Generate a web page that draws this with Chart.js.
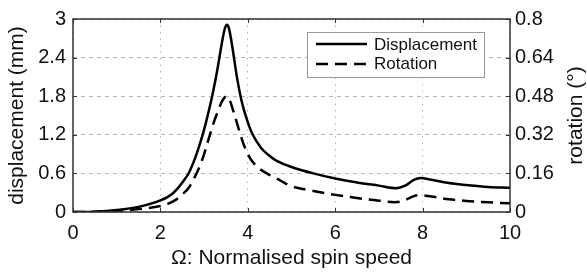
<!DOCTYPE html>
<html>
<head>
<meta charset="utf-8">
<script src="https://cdn.jsdelivr.net/npm/chart.js@4.4.1/dist/chart.umd.min.js"></script>
<style>
  html, body { margin: 0; padding: 0; background: #fff; }
  canvas { display: block; }
</style>
</head>
<body>
<canvas id="spinChart" width="587" height="275"></canvas>
<script>
// normalised spin speed
const omega = [0, 0.5, 1, 1.5, 2, 2.3, 2.6, 2.7, 2.8, 2.9, 3.0, 3.1, 3.2, 3.3, 3.4, 3.47, 3.52, 3.57, 3.65, 3.75, 3.85, 3.95, 4.1, 4.3, 4.45, 4.65, 5.0, 5.5, 6.0, 6.5, 7.0, 7.4, 7.6, 7.8, 7.95, 8.2, 8.6, 9.0, 9.5, 10];
// displacement (mm)
const displacement = [0, 0.005, 0.03, 0.08, 0.18, 0.3, 0.55, 0.68, 0.85, 1.05, 1.28, 1.55, 1.85, 2.2, 2.6, 2.84, 2.91, 2.85, 2.55, 2.1, 1.75, 1.5, 1.22, 1.0, 0.9, 0.8, 0.7, 0.6, 0.52, 0.46, 0.41, 0.37, 0.41, 0.5, 0.53, 0.5, 0.45, 0.42, 0.39, 0.375];
// rotation (deg)
const rotation = [0, 0.001, 0.005, 0.012, 0.025, 0.045, 0.09, 0.115, 0.15, 0.19, 0.24, 0.3, 0.36, 0.41, 0.455, 0.475, 0.48, 0.47, 0.43, 0.37, 0.31, 0.26, 0.21, 0.175, 0.158, 0.14, 0.107, 0.087, 0.071, 0.058, 0.047, 0.041, 0.05, 0.066, 0.07, 0.064, 0.053, 0.046, 0.04, 0.036];

const omegaTicks = [0, 2, 4, 6, 8, 10];
const dispTicks = [0, 0.6, 1.2, 1.8, 2.4, 3];
const rotTicks = [0, 0.16, 0.32, 0.48, 0.64, 0.8];

const FONT = "'Liberation Sans', Arial, Helvetica, sans-serif";

function pts(ys) {
  return omega.map((x, i) => ({ x: x, y: ys[i] }));
}

function fixTicks(list) {
  return function (scale) {
    scale.ticks = list.map(v => ({ value: v }));
  };
}

const frame = {
  id: 'frame',
  afterDraw(chart) {
    const ctx = chart.ctx;
    const a = chart.chartArea;
    const xs = chart.scales.x, ys = chart.scales.y;
    ctx.save();
    // inner tick marks
    ctx.strokeStyle = '#333';
    ctx.lineWidth = 1;
    omegaTicks.forEach(v => {
      const px = Math.round(xs.getPixelForValue(v)) + 0.5;
      ctx.beginPath();
      ctx.moveTo(px, a.bottom); ctx.lineTo(px, a.bottom - 4);
      ctx.moveTo(px, a.top); ctx.lineTo(px, a.top + 4);
      ctx.stroke();
    });
    dispTicks.forEach(v => {
      const py = Math.round(ys.getPixelForValue(v)) + 0.5;
      ctx.beginPath();
      ctx.moveTo(a.left, py); ctx.lineTo(a.left + 4, py);
      ctx.moveTo(a.right, py); ctx.lineTo(a.right - 4, py);
      ctx.stroke();
    });
    // box
    ctx.lineWidth = 1.5;
    ctx.strokeStyle = '#333';
    ctx.strokeRect(a.left, a.top, a.right - a.left, a.bottom - a.top);

    // right axis title, reading upwards
    ctx.fillStyle = '#111';
    ctx.font = '21px ' + FONT;
    ctx.textAlign = 'center';
    ctx.textBaseline = 'middle';
    ctx.translate(576, (a.top + a.bottom) / 2);
    ctx.rotate(-Math.PI / 2);
    ctx.fillText('rotation (\u00b0)', 0, 0);
    ctx.restore();

    // legend
    ctx.save();
    const lx = 307, ly = 32, lw = 177, lh = 45;
    ctx.fillStyle = '#fff';
    ctx.fillRect(lx, ly, lw, lh);
    ctx.strokeStyle = '#999';
    ctx.lineWidth = 1;
    ctx.strokeRect(lx + 0.5, ly + 0.5, lw, lh);
    ctx.strokeStyle = '#000';
    ctx.lineWidth = 2.5;
    ctx.beginPath();
    ctx.moveTo(316, 44); ctx.lineTo(367, 44);
    ctx.stroke();
    ctx.setLineDash([12, 7]);
    ctx.beginPath();
    ctx.moveTo(316, 64); ctx.lineTo(367, 64);
    ctx.stroke();
    ctx.setLineDash([]);
    ctx.fillStyle = '#111';
    ctx.font = '17px ' + FONT;
    ctx.textAlign = 'left';
    ctx.textBaseline = 'middle';
    ctx.fillText(chart.data.datasets[0].label, 374, 45);
    ctx.fillText(chart.data.datasets[1].label, 374, 64);
    ctx.restore();
  }
};

new Chart(document.getElementById('spinChart'), {
  type: 'line',
  data: {
    datasets: [
      {
        label: 'Displacement',
        data: pts(displacement),
        yAxisID: 'y',
        borderColor: '#000',
        borderWidth: 2.5,
        pointRadius: 0,
        tension: 0.35,
        fill: false
      },
      {
        label: 'Rotation',
        data: pts(rotation),
        yAxisID: 'y1',
        borderColor: '#000',
        borderWidth: 2.5,
        borderDash: [12, 7],
        pointRadius: 0,
        tension: 0.35,
        fill: false
      }
    ]
  },
  options: {
    responsive: false,
    animation: false,
    layout: { padding: { top: 10, left: 0, right: 0, bottom: 0 } },
    plugins: {
      legend: { display: false },
      tooltip: { enabled: false }
    },
    scales: {
      x: {
        type: 'linear',
        min: 0, max: 10,
        afterBuildTicks: fixTicks(omegaTicks),
        afterFit(s) { s.height = 63; },
        grid: { color: '#b5b5b5', lineWidth: 1, drawTicks: false },
        border: { display: false, dash: [1.5, 5] },
        ticks: { color: '#111', font: { family: FONT, size: 20 }, padding: 9, maxRotation: 0 },
        title: { display: true, text: '\u03a9: Normalised spin speed', color: '#111', font: { family: FONT, size: 21 }, padding: { top: 0, bottom: 4 } }
      },
      y: {
        position: 'left',
        min: 0, max: 3,
        afterBuildTicks: fixTicks(dispTicks),
        afterFit(s) { s.width = 73; },
        grid: { color: '#b5b5b5', lineWidth: 1, drawTicks: false },
        border: { display: false, dash: [4, 4] },
        ticks: { color: '#111', font: { family: FONT, size: 20 }, padding: 7, callback: v => String(v) },
        title: { display: true, text: 'displacement (mm)', color: '#111', font: { family: FONT, size: 21 }, padding: { top: 5, bottom: 0 } }
      },
      y1: {
        position: 'right',
        min: 0, max: 0.8,
        afterBuildTicks: fixTicks(rotTicks),
        afterFit(s) { s.width = 77; },
        grid: { display: false, drawTicks: false },
        border: { display: false },
        ticks: { color: '#111', font: { family: FONT, size: 20 }, padding: 5, callback: v => String(v) }
      }
    }
  },
  plugins: [frame]
});
</script>
</body>
</html>
